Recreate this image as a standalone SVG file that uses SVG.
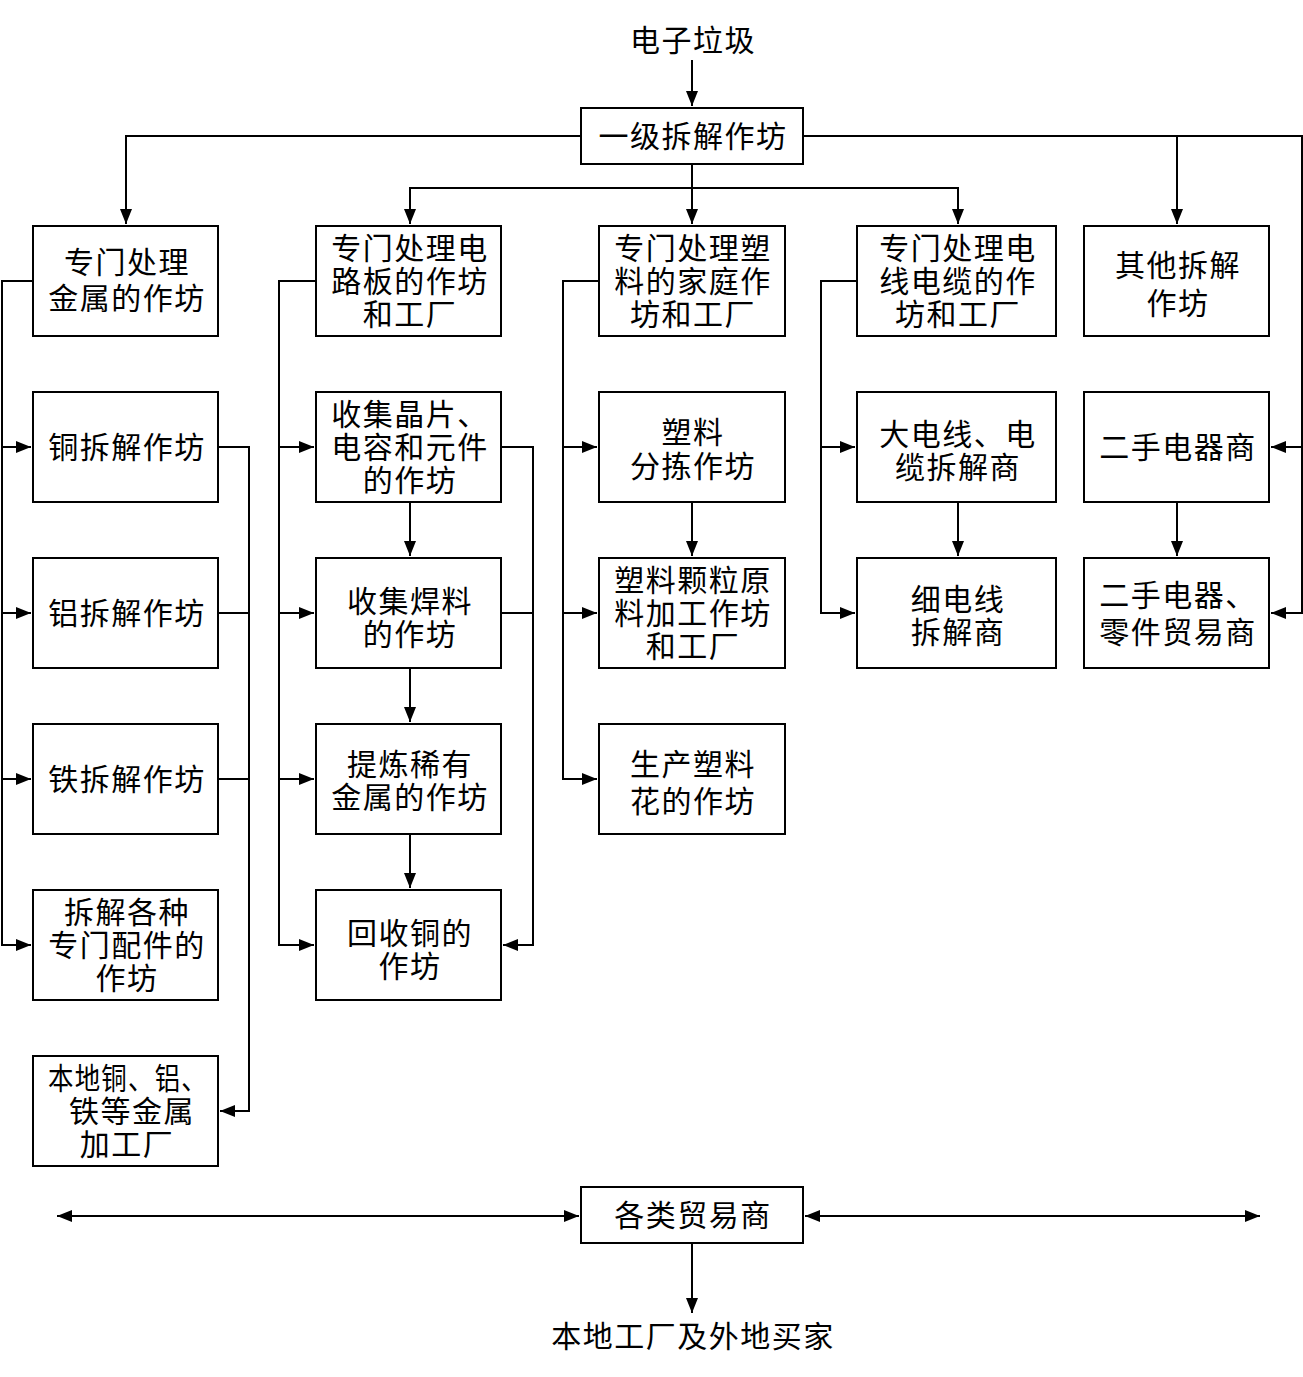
<svg xmlns="http://www.w3.org/2000/svg" width="1303" height="1377" viewBox="0 0 1303 1377">
<style>
.b{fill:#fff;stroke:#000;stroke-width:2}
.t{font-family:"Noto Sans CJK SC","Noto Sans CJK TC",sans-serif;font-size:30px;text-anchor:middle;fill:#000;letter-spacing:1.5px}
.c{fill:none;stroke:#000;stroke-width:2}
</style>
<defs>
<marker id="a" markerUnits="userSpaceOnUse" markerWidth="16" markerHeight="12" refX="15" refY="6" orient="auto-start-reverse">
<path d="M0,0 L15,6 L0,12 z" fill="#000"/>
</marker>
</defs>
<rect width="1303" height="1377" fill="#fff"/>
<g id="connectors" class="c">
<path d="M692,60 V106" marker-end="url(#a)"/>
<path d="M581,136 H126 V224" marker-end="url(#a)"/>
<path d="M803,136 H1302 V613 H1271" marker-end="url(#a)"/>
<path d="M1302,447 H1271" marker-end="url(#a)"/>
<path d="M1177,136 V224" marker-end="url(#a)"/>
<path d="M692,164 V224" marker-end="url(#a)"/>
<path d="M410,224 V188 H958 V224" marker-end="url(#a)"/>
<path d="M410,188 V224" marker-end="url(#a)"/>
<path d="M33,281 H2 V945 H31" marker-end="url(#a)"/>
<path d="M2,447 H31" marker-end="url(#a)"/>
<path d="M2,613 H31" marker-end="url(#a)"/>
<path d="M2,779 H31" marker-end="url(#a)"/>
<path d="M218,447 H249 V1111 H220" marker-end="url(#a)"/>
<path d="M218,613 H249"/>
<path d="M218,779 H249"/>
<path d="M316,281 H279 V945 H314" marker-end="url(#a)"/>
<path d="M279,447 H314" marker-end="url(#a)"/>
<path d="M279,613 H314" marker-end="url(#a)"/>
<path d="M279,779 H314" marker-end="url(#a)"/>
<path d="M410,502 V556" marker-end="url(#a)"/>
<path d="M410,668 V722" marker-end="url(#a)"/>
<path d="M410,834 V888" marker-end="url(#a)"/>
<path d="M501,447 H533 V945 H503" marker-end="url(#a)"/>
<path d="M501,613 H533"/>
<path d="M599,281 H563 V779 H597" marker-end="url(#a)"/>
<path d="M563,447 H597" marker-end="url(#a)"/>
<path d="M563,613 H597" marker-end="url(#a)"/>
<path d="M692,502 V556" marker-end="url(#a)"/>
<path d="M857,281 H821 V613 H855" marker-end="url(#a)"/>
<path d="M821,447 H855" marker-end="url(#a)"/>
<path d="M958,502 V556" marker-end="url(#a)"/>
<path d="M1177,502 V556" marker-end="url(#a)"/>
<path d="M57,1216 H579" marker-start="url(#a)" marker-end="url(#a)"/>
<path d="M805,1216 H1260" marker-start="url(#a)" marker-end="url(#a)"/>
<path d="M692,1243 V1313" marker-end="url(#a)"/>
</g>
<g id="n-top"><text class="t" x="693" y="51">电子垃圾</text></g>
<g id="n-primary"><rect class="b" x="581" y="108" width="222" height="56"/><text class="t" x="693" y="147">一级拆解作坊</text></g>
<g id="n-metal"><rect class="b" x="33" y="226" width="185" height="110"/><text class="t"><tspan x="127" y="273">专门处理</tspan><tspan x="127" y="309">金属的作坊</tspan></text></g>
<g id="n-pcb"><rect class="b" x="316" y="226" width="185" height="110"/><text class="t"><tspan x="410" y="259">专门处理电</tspan><tspan x="410" y="292">路板的作坊</tspan><tspan x="410" y="325">和工厂</tspan></text></g>
<g id="n-plastic"><rect class="b" x="599" y="226" width="186" height="110"/><text class="t"><tspan x="693" y="259">专门处理塑</tspan><tspan x="693" y="292">料的家庭作</tspan><tspan x="693" y="325">坊和工厂</tspan></text></g>
<g id="n-cable"><rect class="b" x="857" y="226" width="199" height="110"/><text class="t"><tspan x="958" y="259">专门处理电</tspan><tspan x="958" y="292">线电缆的作</tspan><tspan x="958" y="325">坊和工厂</tspan></text></g>
<g id="n-other"><rect class="b" x="1084" y="226" width="185" height="110"/><text class="t"><tspan x="1178" y="276">其他拆解</tspan><tspan x="1178" y="314">作坊</tspan></text></g>
<g id="n-cu"><rect class="b" x="33" y="392" width="185" height="110"/><text class="t" x="127" y="458">铜拆解作坊</text></g>
<g id="n-al"><rect class="b" x="33" y="558" width="185" height="110"/><text class="t" x="127" y="624">铝拆解作坊</text></g>
<g id="n-fe"><rect class="b" x="33" y="724" width="185" height="110"/><text class="t" x="127" y="790">铁拆解作坊</text></g>
<g id="n-parts"><rect class="b" x="33" y="890" width="185" height="110"/><text class="t"><tspan x="127" y="923">拆解各种</tspan><tspan x="127" y="956">专门配件的</tspan><tspan x="127" y="989">作坊</tspan></text></g>
<g id="n-local"><rect class="b" x="33" y="1056" width="185" height="110"/><text class="t"><tspan x="128" y="1089" textLength="160" lengthAdjust="spacingAndGlyphs">本地铜、铝、</tspan><tspan x="132" y="1122">铁等金属</tspan><tspan x="127" y="1155">加工厂</tspan></text></g>
<g id="n-chip"><rect class="b" x="316" y="392" width="185" height="110"/><text class="t"><tspan x="410" y="425">收集晶片、</tspan><tspan x="410" y="458">电容和元件</tspan><tspan x="410" y="491">的作坊</tspan></text></g>
<g id="n-solder"><rect class="b" x="316" y="558" width="185" height="110"/><text class="t"><tspan x="410" y="612">收集焊料</tspan><tspan x="410" y="645">的作坊</tspan></text></g>
<g id="n-rare"><rect class="b" x="316" y="724" width="185" height="110"/><text class="t"><tspan x="410" y="775">提炼稀有</tspan><tspan x="410" y="808">金属的作坊</tspan></text></g>
<g id="n-copper"><rect class="b" x="316" y="890" width="185" height="110"/><text class="t"><tspan x="410" y="944">回收铜的</tspan><tspan x="410" y="977">作坊</tspan></text></g>
<g id="n-sort"><rect class="b" x="599" y="392" width="186" height="110"/><text class="t"><tspan x="693" y="443">塑料</tspan><tspan x="693" y="477">分拣作坊</tspan></text></g>
<g id="n-pellet"><rect class="b" x="599" y="558" width="186" height="110"/><text class="t"><tspan x="693" y="591">塑料颗粒原</tspan><tspan x="693" y="624">料加工作坊</tspan><tspan x="693" y="657">和工厂</tspan></text></g>
<g id="n-flower"><rect class="b" x="599" y="724" width="186" height="110"/><text class="t"><tspan x="693" y="775">生产塑料</tspan><tspan x="693" y="812">花的作坊</tspan></text></g>
<g id="n-bigwire"><rect class="b" x="857" y="392" width="199" height="110"/><text class="t"><tspan x="958" y="445">大电线、电</tspan><tspan x="958" y="478">缆拆解商</tspan></text></g>
<g id="n-thinwire"><rect class="b" x="857" y="558" width="199" height="110"/><text class="t"><tspan x="958" y="610">细电线</tspan><tspan x="958" y="643">拆解商</tspan></text></g>
<g id="n-used"><rect class="b" x="1084" y="392" width="185" height="110"/><text class="t" x="1178" y="458">二手电器商</text></g>
<g id="n-usedtrade"><rect class="b" x="1084" y="558" width="185" height="110"/><text class="t"><tspan x="1178" y="606">二手电器、</tspan><tspan x="1178" y="643">零件贸易商</tspan></text></g>
<g id="n-traders"><rect class="b" x="581" y="1187" width="222" height="56"/><text class="t" x="693" y="1226">各类贸易商</text></g>
<g id="n-buyers"><text class="t" x="693" y="1347">本地工厂及外地买家</text></g>
</svg>
